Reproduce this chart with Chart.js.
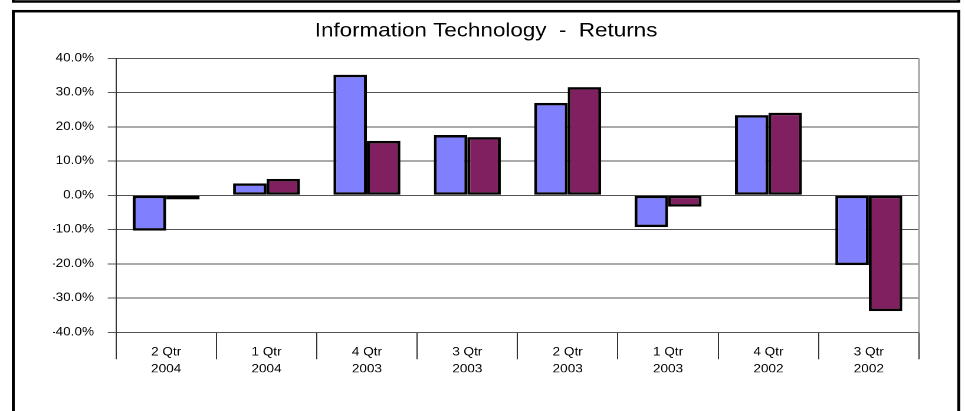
<!DOCTYPE html>
<html>
<head>
<meta charset="utf-8">
<title>Information Technology - Returns</title>
<script src="https://cdn.jsdelivr.net/npm/chart.js@4.4.1/dist/chart.umd.min.js"></script>
<style>
  html, body { margin: 0; padding: 0; background: #fff; overflow: hidden; }
  #chart { display: block; }
</style>
</head>
<body>
<!-- drawn on a narrower canvas and shown stretched to the full page width -->
<canvas id="chart" width="818" height="411" style="width:965px;height:411px;display:block"></canvas>
<script>
// Quarter labels (two lines each)
const categories = [
  ['2 Qtr', '2004'], ['1 Qtr', '2004'], ['4 Qtr', '2003'], ['3 Qtr', '2003'],
  ['2 Qtr', '2003'], ['1 Qtr', '2003'], ['4 Qtr', '2002'], ['3 Qtr', '2002']
];

// Quarterly returns, in percent
const sectorReturns    = [-10.3, 3.5, 35.2, 17.6, 27.0, -9.3, 23.4, -20.4];
const benchmarkReturns = [ -1.2, 4.8, 15.9, 17.0, 31.6, -3.3, 24.1, -33.8];

// Value axis range and tick spacing, in percent
const yMin = -40;
const yMax = 40;
const yStep = 10;

const chartTitle = 'Information Technology  -  Returns';

const PAGE_W = 965;
const FONT = '"Liberation Sans", Arial, Helvetica, sans-serif';

// Outer frames and the grey right edge of the plot area
const framePlugin = {
  id: 'frames',
  afterDraw(chart) {
    const c = chart.ctx;
    const k = chart.width / PAGE_W;
    const a = chart.chartArea;
    c.save();
    c.strokeStyle = '#000';
    c.lineWidth = 2.5;
    // lower edge of the panel above
    c.strokeRect(13.3 * k, -30, (958.8 - 13.3) * k, 31.5);
    // this panel
    c.strokeRect(13.3 * k, 11.2, (958.8 - 13.3) * k, 430);
    // plot area border on the right
    c.strokeStyle = '#A0A0A0';
    c.lineWidth = 1.5;
    c.beginPath();
    c.moveTo(a.right, a.top);
    c.lineTo(a.right, a.bottom);
    c.stroke();
    c.restore();
  }
};

new Chart(document.getElementById('chart'), {
  type: 'bar',
  data: {
    labels: categories,
    datasets: [
      {
        label: 'Sector',
        data: sectorReturns,
        backgroundColor: '#8080FF',
        borderColor: '#000',
        borderWidth: 2.5,
        borderSkipped: false
      },
      {
        label: 'Benchmark',
        data: benchmarkReturns,
        backgroundColor: '#802060',
        borderColor: '#000',
        borderWidth: 2.5,
        borderSkipped: false
      }
    ]
  },
  options: {
    responsive: false,
    animation: false,
    devicePixelRatio: 2,
    layout: { padding: { left: 45, right: 39, top: 0, bottom: 38.7 } },
    datasets: { bar: { categoryPercentage: 0.667, barPercentage: 1.0 } },
    plugins: {
      legend: { display: false },
      tooltip: { enabled: false },
      title: {
        display: true,
        text: chartTitle,
        color: '#000',
        font: { family: FONT, size: 19, weight: 'normal', lineHeight: 1.2 },
        padding: { top: 19.7, bottom: 15.8 }
      }
    },
    scales: {
      x: {
        offset: true,
        grid: {
          offset: true,
          display: true,
          drawOnChartArea: false,
          drawTicks: true,
          tickLength: 27,
          color: '#333',
          lineWidth: 1
        },
        border: { display: true, color: '#555', width: 1 },
        ticks: {
          color: '#000',
          font: { family: FONT, size: 11.5, lineHeight: 1.4545 },
          padding: -15.3,
          maxRotation: 0,
          autoSkip: false
        },
        afterFit(scale) { scale.height = 40; }
      },
      y: {
        min: yMin,
        max: yMax,
        grid: {
          color: '#555',
          lineWidth: 1,
          drawTicks: true,
          tickLength: 7
        },
        border: { display: true, color: '#333', width: 1 },
        ticks: {
          stepSize: yStep,
          color: '#000',
          font: { family: FONT, size: 11.5 },
          padding: 11.6,
          callback: (v) => v.toFixed(1) + '%'
        },
        afterFit(scale) { scale.width = 53.3; }
      }
    }
  },
  plugins: [framePlugin]
});
</script>
</body>
</html>
